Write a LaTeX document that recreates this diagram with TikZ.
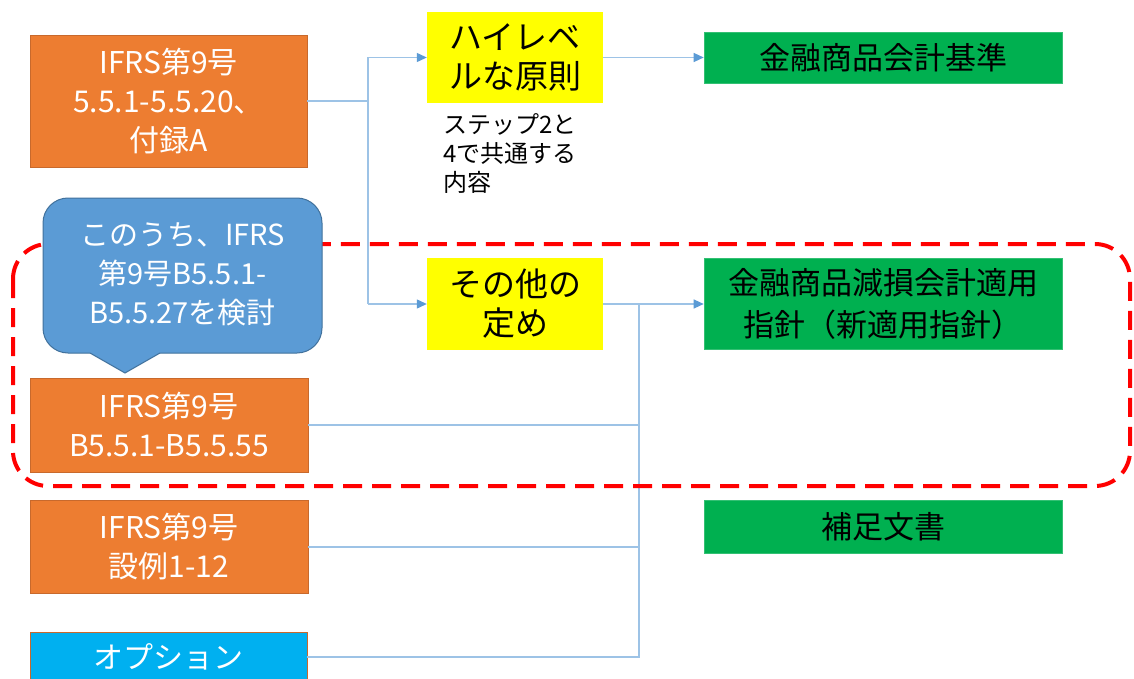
\documentclass[tikz,border=0pt]{standalone}
\usepackage{fontspec}
\setmainfont{Noto Sans CJK JP}
\usetikzlibrary{arrows.meta}
\definecolor{orng}{HTML}{ED7D31}
\definecolor{orngdk}{HTML}{C8692C}
\definecolor{cblue}{HTML}{5B9BD5}
\definecolor{cbluedk}{HTML}{41719C}
\definecolor{cyanbox}{HTML}{00B0F0}
\definecolor{ylw}{HTML}{FFFF00}
\definecolor{grn}{HTML}{00B050}
\definecolor{lnk}{HTML}{9DC3E6}
\definecolor{lnkdk}{HTML}{5B9BD5}
\definecolor{rdash}{HTML}{FF0000}
\begin{document}
\begin{tikzpicture}[x=1pt,y=-1pt,
  obox/.style={draw=orngdk, line width=0.8pt, fill=orng, text=white, align=center, inner sep=0pt, font=\fontsize{30}{39}\selectfont},
  cybox/.style={draw=orngdk, line width=0.8pt, fill=cyanbox, text=white, align=center, inner sep=0pt, font=\fontsize{30}{39}\selectfont},
  ybox/.style={fill=ylw, text=black, align=center, inner sep=0pt, font=\fontsize{33}{39}\selectfont},
  gbox/.style={fill=grn, draw=grn!80!white, line width=0.6pt, text=black, align=center, inner sep=0pt, font=\fontsize{31}{42}\selectfont},
  link/.style={draw=lnk, line width=1.2pt},
  alink/.style={link, -{Triangle[length=10pt,width=9pt,color=lnkdk]}},
  redline/.style={draw=rdash, line width=4pt, dash pattern=on 19pt off 10pt, rounded corners=35pt},
  callfill/.style={fill=cblue},
  callline/.style={draw=cbluedk, line width=1pt}
]
\useasboundingbox (0,0) rectangle (1134,679);
\fill[white] (0,0) rectangle (1134,679);
\clip (0,0) rectangle (1134,679);

% boxes
\node[obox, minimum width=277pt, minimum height=132pt] (o1) at (168.5,101) {IFRS第9号\\5.5.1-5.5.20、\\付録A};
\node[obox, minimum width=278pt, minimum height=94pt] (o2) at (169,425) {IFRS第9号\\B5.5.1-B5.5.55};
\node[obox, minimum width=278pt, minimum height=93pt] (o3) at (169,547) {IFRS第9号\\設例1-12};
\node[cybox, minimum width=277pt, minimum height=50pt] (op) at (168.5,657) {オプション};

\node[ybox, minimum width=176pt, minimum height=91pt] (y1) at (515,57.5) {ハイレベ\\ルな原則};
\node[ybox, minimum width=176pt, minimum height=92pt] (y2) at (515,304) {その他の\\定め};
\node[anchor=north west, align=left, inner sep=0pt, font=\fontsize{24}{29}\selectfont] (note) at (443,113) {ステップ2と\\4で共通する\\内容};

\node[gbox, minimum width=358pt, minimum height=51pt] (g1) at (883,58) {金融商品会計基準};
\node[gbox, minimum width=358pt, minimum height=91pt] (g2) at (883,304) {金融商品減損会計適用\\指針（新適用指針）};
\node[gbox, minimum width=358pt, minimum height=53pt] (g3) at (883,526.5) {補足文書};

% connectors
\coordinate (j1) at (368,101);
\coordinate (j1t) at (368,57.5);
\coordinate (j1b) at (368,304);
\coordinate (b0) at (639,304);
\coordinate (b1) at (639,425);
\coordinate (b2) at (639,547);
\coordinate (b3) at (639,657);
\draw[link] (o1.east) -- (j1);
\draw[link] (j1t) -- (j1b);
\draw[alink] (j1t) -- (y1.west);
\draw[alink] (j1b) -- (y2.west);
\draw[alink] (y1.east) -- (g1.west |- y1.east);
\draw[alink] (y2.east) -- (g2.west);
\draw[link] (o2.east) -- (b1);
\draw[link] (o3.east) -- (b2);
\draw[link] (op.east) -- (b3) -- (b0);

% red dashed group
\draw[redline] (13,244) rectangle (1130,486);

% callout
\filldraw[callfill, callline, rounded corners=25pt] (43,198) rectangle (322,353);
\fill[callfill] (90,353) -- (125,373) -- (160,353) -- (160,350) -- (90,350) -- cycle;
\draw[callline] (90,353) -- (125,373) -- (160,353);
\node[text=white, align=center, inner sep=0pt, font=\fontsize{29}{39}\selectfont] (co) at (182.5,274) {このうち、IFRS\\第9号B5.5.1-\\B5.5.27を検討};
\end{tikzpicture}
\end{document}
